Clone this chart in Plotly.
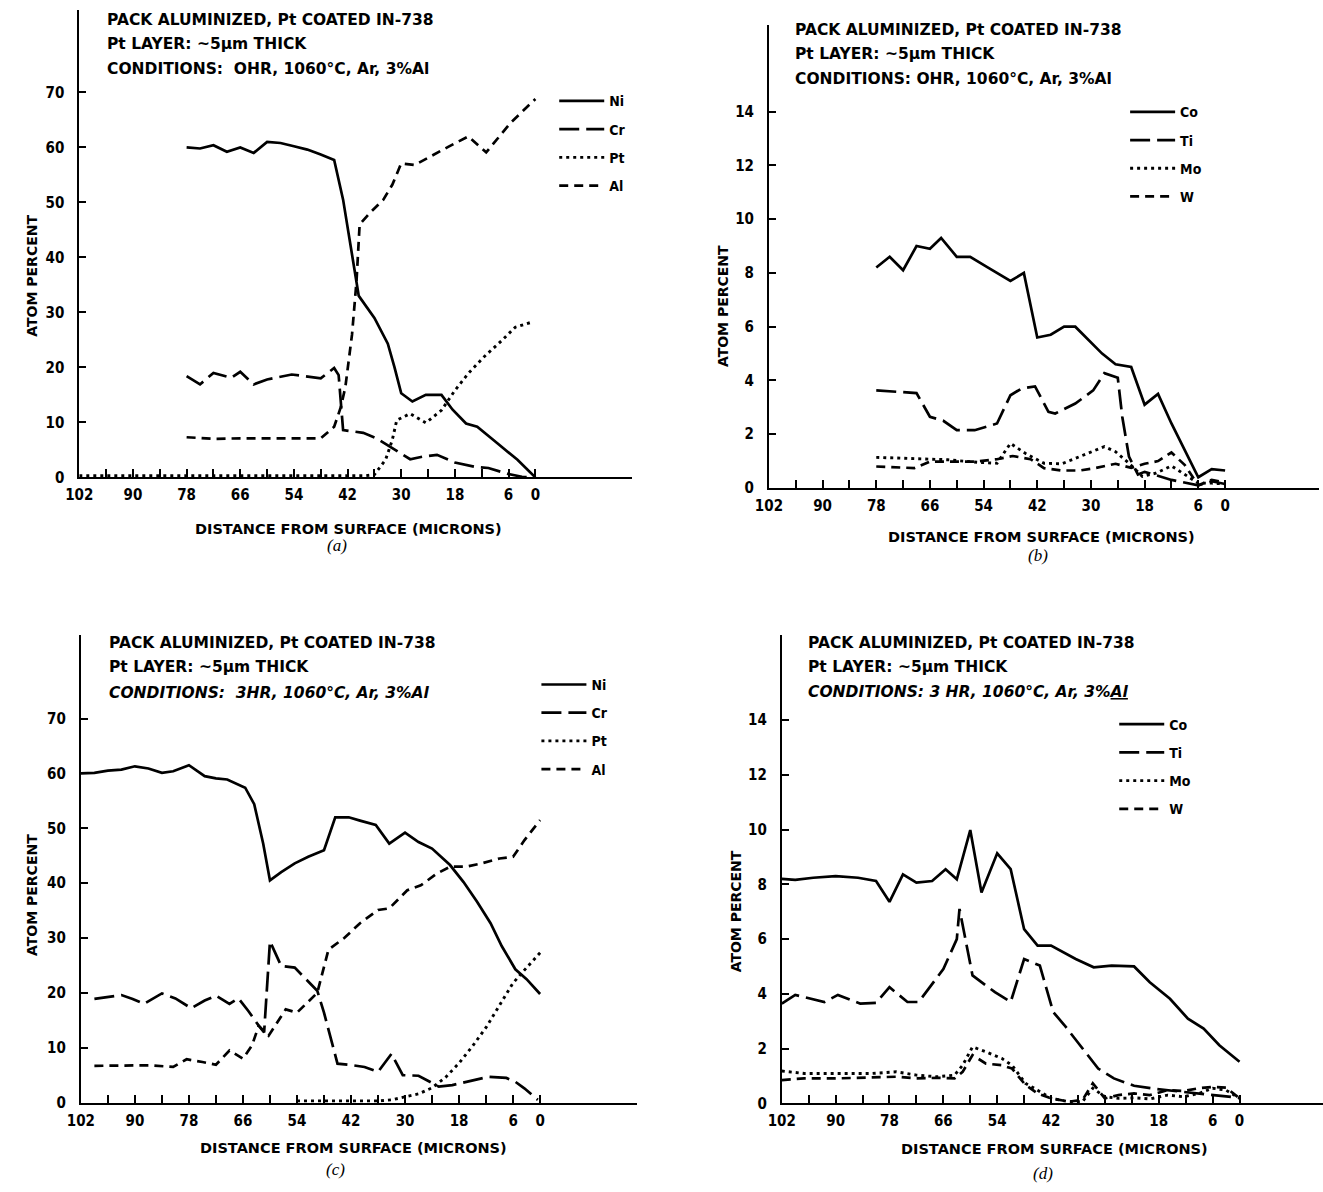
import plotly.graph_objects as go

W, H = 1323, 1192
FONT = "DejaVu Sans Condensed"
WIDE = "DejaVu Sans"

# ---------------- data ----------------
# shared x ticks (distance from surface, microns)
x_tick_vals = [102, 96, 90, 84, 78, 72, 66, 60, 54, 48, 42, 36, 30, 24, 18, 12, 6, 0]
x_tick_labeled = [102, 90, 78, 66, 54, 42, 30, 18, 6, 0]
y_ticks_major = [0, 10, 20, 30, 40, 50, 60, 70]
y_ticks_minor = [0, 2, 4, 6, 8, 10, 12, 14]

# Panel (a): 0 HR, Ni / Cr / Pt / Al
ni_a_x = [78, 75, 72, 69, 66, 63, 60, 57, 54, 51, 48, 45, 43, 41, 39.5, 36, 33, 31.5, 30, 27.5, 24.5, 21, 18.5, 15.5, 13, 8.5, 4, 0]
ni_a_y = [60, 59.8, 60.4, 59.2, 60, 59, 61, 60.8, 60.2, 59.6, 58.7, 57.7, 50.5, 40, 33, 29, 24.3, 20, 15.3, 13.8, 15, 15, 12.3, 9.8, 9.2, 6.2, 3.2, 0]
cr_a_x = [78, 75, 72, 68, 66, 63, 60, 54.5, 51.5, 48, 45, 44, 43, 38.5, 35.5, 32, 28, 25, 22, 18, 13.5, 10.5, 6, 3, 0]
cr_a_y = [18.4, 16.9, 19, 18.1, 19.2, 16.9, 17.8, 18.7, 18.4, 18, 19.9, 18.6, 8.6, 8.1, 7.1, 5.3, 3.3, 3.8, 4.1, 2.7, 1.9, 1.7, 0.6, 0.1, 0]
pt_a_x = [102, 90, 78, 66, 54, 42, 38, 36, 33.5, 32, 31, 28, 24.5, 21, 18, 15, 11.5, 7.5, 4.5, 0.5]
pt_a_y = [0.3, 0.3, 0.3, 0.3, 0.3, 0.3, 0.3, 0.5, 3.2, 6.8, 10.4, 11.6, 9.9, 12.2, 15.8, 18.9, 21.9, 24.9, 27.3, 28.3]
al_a_x = [78, 72, 66, 60, 54, 48, 45, 43.5, 42.5, 41, 40, 39.3, 37, 34, 32, 30, 27, 23, 19.5, 15, 11, 5.5, 3, 0]
al_a_y = [7.3, 7.0, 7.1, 7.1, 7.1, 7.1, 9.2, 12.8, 16.4, 26, 35.7, 46, 48.1, 50.5, 53.2, 57.1, 56.8, 58.6, 60.1, 62, 59.1, 64.5, 66.5, 68.8]

# Panel (b): 0 HR, Co / Ti / Mo / W
co_b_x = [78, 75, 72, 69, 66, 63.5, 60, 57, 53, 50, 48, 45, 42, 39, 36, 33.5, 30.5, 27.5, 24.5, 21, 18, 15, 12, 9, 6, 3, 0]
co_b_y = [8.2, 8.6, 8.1, 9.0, 8.9, 9.3, 8.6, 8.6, 8.2, 7.9, 7.7, 8.0, 5.6, 5.7, 6.0, 6.0, 5.5, 5.0, 4.6, 4.5, 3.1, 3.5, 2.4, 1.4, 0.4, 0.7, 0.65]
ti_b_x = [78, 69, 66, 63, 60, 56, 51, 48, 45.5, 42.5, 39.5, 38, 33.5, 29.5, 27, 24, 23, 21.5, 19.5, 18, 12, 6, 3, 0]
ti_b_y = [3.63, 3.53, 2.65, 2.5, 2.15, 2.15, 2.4, 3.45, 3.7, 3.78, 2.83, 2.77, 3.14, 3.63, 4.27, 4.1, 2.65, 1.17, 0.5, 0.6, 0.3, 0.1, 0.25, 0.15]
mo_b_x = [78, 69.5, 62, 55, 51, 48, 44.5, 40.5, 36.5, 32.5, 27, 24.5, 21.5, 18.5, 15.5, 12, 9, 6, 3, 0]
mo_b_y = [1.14, 1.1, 1.05, 0.95, 0.92, 1.66, 1.27, 0.92, 0.9, 1.17, 1.54, 1.35, 0.92, 0.43, 0.55, 0.82, 0.5, 0.18, 0.18, 0.15]
w_b_x = [78, 73, 69.5, 66, 62, 56, 51, 47.5, 43.5, 40.5, 36.5, 32.5, 29, 24.5, 21, 18, 15, 12, 9, 6, 3, 0]
w_b_y = [0.8, 0.78, 0.74, 0.98, 0.98, 0.98, 1.07, 1.19, 1.07, 0.74, 0.65, 0.65, 0.74, 0.9, 0.75, 0.9, 1.0, 1.32, 0.85, 0.1, 0.3, 0.2]

# Panel (c): 3 HR, Ni / Cr / Pt / Al
ni_c_x = [102, 99, 96, 93, 90, 87, 84, 81.5, 78, 74.5, 72, 69.5, 65.5, 63.5, 61.5, 60, 57.5, 54.5, 51.5, 48, 45.5, 42.5, 40, 36.5, 33.5, 30, 27, 24, 20, 17, 14, 11, 8.5, 5.5, 3, 0]
ni_c_y = [60, 60.1, 60.5, 60.7, 61.3, 60.9, 60.1, 60.4, 61.5, 59.5, 59.1, 58.9, 57.4, 54.4, 47.2, 40.5, 42, 43.6, 44.8, 46, 52, 52, 51.4, 50.6, 47.2, 49.2, 47.5, 46.3, 43.3, 40.2, 36.6, 32.7, 28.5, 24.3, 22.5, 19.8]
cr_c_x = [99, 96, 93, 90.5, 88, 84, 81, 77.5, 74.5, 72, 69, 67, 64.8, 62.5, 61.3, 60, 57.5, 54.5, 52, 49.5, 48, 46.5, 45, 41.5, 39, 36, 33, 30.5, 27, 24.5, 22.5, 19.5, 15, 11.5, 7.5, 5.5, 3.5, 0.5]
cr_c_y = [18.9, 19.2, 19.6, 18.9, 18, 19.9, 19.0, 17.2, 18.6, 19.5, 18, 19, 16.7, 14.0, 12.8, 29.4, 24.9, 24.6, 22.5, 20.4, 16.4, 11.6, 7.1, 6.8, 6.5, 5.6, 8.9, 5.0, 4.9, 3.8, 2.9, 3.2, 4.1, 4.7, 4.5, 3.8, 2.6, 0.5]
pt_c_x = [54, 48, 42, 36, 33, 30, 27, 24, 21, 18, 15, 12, 9, 6, 3, 0]
pt_c_y = [0.3, 0.3, 0.3, 0.3, 0.5, 1.0, 1.6, 2.7, 4.6, 7.2, 10.3, 13.7, 17.8, 21.8, 24.6, 27.3]
al_c_x = [99, 92.5, 86.5, 81.5, 78.5, 75, 72, 69, 66, 64, 62.5, 60.3, 56.5, 54, 49.5, 47, 43.5, 40, 36, 33.5, 29.5, 26.5, 23, 20, 16.5, 13, 9, 6, 3.5, 0]
al_c_y = [6.7, 6.7, 6.8, 6.5, 7.9, 7.4, 6.9, 9.5, 8.0, 10.4, 14, 12.2, 17, 16.4, 20, 27.9, 30, 32.7, 35.1, 35.4, 38.7, 39.6, 41.7, 43, 43, 43.6, 44.5, 44.8, 47.8, 51.5]

# Panel (d): 3 HR, Co / Ti / Mo / W
co_d_x = [102, 99, 95, 90, 85, 81, 78, 75, 72, 68.5, 65.5, 63, 60, 57.5, 54, 51, 48, 45, 42, 39.5, 36.5, 32.5, 28.5, 23.5, 20, 15.5, 11.5, 8, 4.5, 0]
co_d_y = [8.2, 8.16, 8.24, 8.3, 8.24, 8.12, 7.36, 8.36, 8.06, 8.12, 8.55, 8.18, 9.98, 7.7, 9.13, 8.55, 6.36, 5.76, 5.76, 5.54, 5.27, 4.97, 5.03, 5.0, 4.42, 3.82, 3.09, 2.73, 2.12, 1.52]
ti_d_x = [102, 99, 92.5, 89.5, 84.5, 81, 78, 74, 71.5, 66, 63, 62.4, 59.5, 54.5, 51, 48, 44.5, 41.5, 39, 35, 31.5, 28, 23.5, 18.5, 12, 6, 0]
ti_d_y = [3.64, 3.96, 3.7, 3.96, 3.64, 3.67, 4.24, 3.7, 3.7, 4.9, 6.0, 7.1, 4.67, 4.06, 3.7, 5.27, 5.03, 3.33, 2.85, 2.0, 1.27, 0.91, 0.64, 0.52, 0.4, 0.3, 0.2]
mo_d_x = [102, 97, 90, 82, 76.5, 72, 67.5, 63.5, 61.7, 59.5, 56.5, 53, 50.7, 47.7, 45, 42, 38, 35, 32.7, 30, 27, 23.5, 20, 16, 12.5, 9, 6, 3, 0]
mo_d_y = [1.18, 1.09, 1.09, 1.09, 1.15, 1.03, 0.97, 1.03, 1.39, 2.06, 1.88, 1.64, 1.39, 0.73, 0.48, 0.18, 0.06, 0.06, 0.55, 0.24, 0.18, 0.2, 0.16, 0.3, 0.24, 0.36, 0.55, 0.48, 0.18]
w_d_x = [102, 97, 90, 82, 76.5, 72, 67.5, 63.5, 61.7, 59.5, 56.5, 53, 50.7, 47.7, 45, 42, 38, 35, 32.7, 30, 27, 23.5, 20, 16, 12.5, 9, 6, 3, 0]
w_d_y = [0.85, 0.91, 0.91, 0.93, 0.97, 0.91, 0.93, 0.91, 1.15, 1.76, 1.45, 1.39, 1.27, 0.67, 0.36, 0.18, 0.06, 0.12, 0.73, 0.18, 0.3, 0.36, 0.3, 0.48, 0.45, 0.55, 0.6, 0.57, 0.18]

# ---------------- styles ----------------
SOLID = dict(dash="solid", width=2.7)
LONG = dict(dash="20px,7px", width=2.7)
DOT = dict(dash="3px,4px", width=2.9)
SHORT = dict(dash="9px,6px", width=2.7)

fig = go.Figure()


def add(x, y, name, style, xa, ya, leg):
    fig.add_trace(go.Scatter(
        x=x, y=y, mode="lines", name=name,
        line=dict(color="black", width=style["width"], dash=style["dash"]),
        xaxis=xa, yaxis=ya, legend=leg, legendgroup=leg + name,
        hoverinfo="skip"))


add(ni_a_x, ni_a_y, "Ni", SOLID, "x", "y", "legend")
add(cr_a_x, cr_a_y, "Cr", LONG, "x", "y", "legend")
add(pt_a_x, pt_a_y, "Pt", DOT, "x", "y", "legend")
add(al_a_x, al_a_y, "Al", SHORT, "x", "y", "legend")

add(co_b_x, co_b_y, "Co", SOLID, "x2", "y2", "legend2")
add(ti_b_x, ti_b_y, "Ti", LONG, "x2", "y2", "legend2")
add(mo_b_x, mo_b_y, "Mo", DOT, "x2", "y2", "legend2")
add(w_b_x, w_b_y, "W", SHORT, "x2", "y2", "legend2")

add(ni_c_x, ni_c_y, "Ni", SOLID, "x3", "y3", "legend3")
add(cr_c_x, cr_c_y, "Cr", LONG, "x3", "y3", "legend3")
add(pt_c_x, pt_c_y, "Pt", DOT, "x3", "y3", "legend3")
add(al_c_x, al_c_y, "Al", SHORT, "x3", "y3", "legend3")

add(co_d_x, co_d_y, "Co", SOLID, "x4", "y4", "legend4")
add(ti_d_x, ti_d_y, "Ti", LONG, "x4", "y4", "legend4")
add(mo_d_x, mo_d_y, "Mo", DOT, "x4", "y4", "legend4")
add(w_d_x, w_d_y, "W", SHORT, "x4", "y4", "legend4")


def px_x(p):
    return p / W


def px_y(p):
    return 1 - p / H


tick_font = dict(family=FONT, size=15, color="black", weight="bold")
x_tick_text = [str(v) if v in x_tick_labeled else "" for v in x_tick_vals]


def xaxis(x0, x1, xmin, anchor):
    return dict(domain=[px_x(x0), px_x(x1)], range=[102, xmin], anchor=anchor,
                tickmode="array", tickvals=x_tick_vals, ticktext=x_tick_text,
                ticks="inside", ticklen=8, tickwidth=1.5, tickcolor="black",
                showline=True, linecolor="black", linewidth=2,
                showgrid=False, zeroline=False, tickfont=tick_font,
                ticklabelstandoff=3)


def yaxis(y_top, y_bot, ymax, tv, anchor):
    return dict(domain=[px_y(y_bot), px_y(y_top)], range=[0, ymax], anchor=anchor,
                tickmode="array", tickvals=tv, ticktext=[str(v) for v in tv],
                ticks="inside", ticklen=7, tickwidth=1.5, tickcolor="black",
                showline=True, linecolor="black", linewidth=2,
                showgrid=False, zeroline=False, tickfont=tick_font,
                ticklabelstandoff=10)


def legend(xp, yp):
    return dict(x=px_x(xp), y=px_y(yp), xanchor="left", yanchor="top",
                bgcolor="rgba(0,0,0,0)", borderwidth=0,
                font=dict(family=FONT, size=14, color="black", weight="bold"),
                traceorder="grouped", tracegroupgap=7, itemwidth=45)


annotations = []


def text(xp, yp, s, size=15.5, anchor="left", angle=0, family=WIDE, weight="bold"):
    annotations.append(dict(x=px_x(xp), y=px_y(yp), xref="paper", yref="paper",
                            text=s, showarrow=False, xanchor=anchor, yanchor="middle",
                            textangle=angle,
                            font=dict(family=family, size=size, color="black", weight=weight)))


TITLE1 = "PACK ALUMINIZED, Pt COATED IN-738"
TITLE2 = "Pt LAYER: ~5\u03bcm THICK"

# panel headers
text(92, 20, TITLE1)
text(92, 44, TITLE2)
text(92, 70, "CONDITIONS:  OHR, 1060\u00b0C, Ar, 3%Al")

text(787, 30, TITLE1)
text(787, 54, TITLE2)
text(787, 80, "CONDITIONS: OHR, 1060\u00b0C, Ar, 3%Al")

text(94, 648, TITLE1)
text(94, 672, TITLE2)
text(94, 698, "<i>CONDITIONS:  3HR, 1060\u00b0C, Ar, 3%Al</i>")

text(800, 648, TITLE1)
text(800, 672, TITLE2)
text(800, 697, "<i>CONDITIONS: 3 HR, 1060\u00b0C, Ar, 3%<u>Al</u></i>")

# axis titles
XT = "DISTANCE FROM SURFACE (MICRONS)"
YT = "ATOM PERCENT"
text(338, 533, XT, size=14.5, anchor="center")
text(1038, 541, XT, size=14.5, anchor="center")
text(343, 1157, XT, size=14.5, anchor="center")
text(1052, 1158, XT, size=14.5, anchor="center")

text(18, 278, YT, size=14, anchor="center", angle=-90)
text(716, 308, YT, size=14, anchor="center", angle=-90)
text(18, 902, YT, size=14, anchor="center", angle=-90)
text(730, 918, YT, size=14, anchor="center", angle=-90)

# panel captions
SERIF = "Liberation Serif"
text(326, 550, "<i>(a)</i>", size=17, anchor="center", family=SERIF, weight="normal")
text(1035, 560, "<i>(b)</i>", size=17, anchor="center", family=SERIF, weight="normal")
text(325, 1178, "<i>(c)</i>", size=17, anchor="center", family=SERIF, weight="normal")
text(1040, 1182, "<i>(d)</i>", size=17, anchor="center", family=SERIF, weight="normal")

fig.update_layout(
    width=W, height=H, margin=dict(l=0, r=0, t=0, b=0),
    paper_bgcolor="white", plot_bgcolor="white",
    font=dict(family=FONT, color="black"),
    showlegend=True,
    xaxis=xaxis(66, 625, -21.7, "y"),
    yaxis=yaxis(10, 481, 85, y_ticks_major, "x"),
    xaxis2=xaxis(763, 1319, -21, "y2"),
    yaxis2=yaxis(25, 491.7, 17.23, y_ticks_minor, "x2"),
    xaxis3=xaxis(67.6, 630, -21.6, "y3"),
    yaxis3=yaxis(640, 1111, 85.2, y_ticks_major, "x3"),
    xaxis4=xaxis(776, 1323, -18.6, "y4"),
    yaxis4=yaxis(640, 1111.7, 17.1, y_ticks_minor, "x4"),
    legend=legend(546, 86),
    legend2=legend(1123, 97),
    legend3=legend(528, 674),
    legend4=legend(1112, 714),
    annotations=annotations,
)

fig.write_html("out.html", config={"displayModeBar": False},
               post_script="document.body.style.margin='0px';document.body.style.overflow='hidden';")
